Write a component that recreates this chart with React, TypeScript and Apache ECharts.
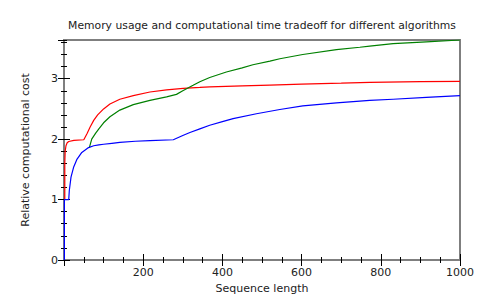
import React, { useEffect, useRef } from "react";
import * as echarts from "echarts";

const titleText = "Memory usage and computational time tradeoff for different algorithms";
const xName = "Sequence length";
const yName = "Relative computational cost";

const redX = [2, 2, 3, 5, 8, 12, 25, 50, 58, 66, 75, 85, 100, 116, 141, 175, 217, 259, 301, 343, 368, 450, 520, 600, 700, 772, 900, 1000];
const redY = [1, 1.6, 1.8, 1.89, 1.94, 1.96, 1.98, 1.99, 2.09, 2.2, 2.31, 2.4, 2.5, 2.58, 2.66, 2.72, 2.78, 2.815, 2.84, 2.855, 2.865, 2.88, 2.895, 2.91, 2.925, 2.94, 2.95, 2.955];

const greenX = [64, 70, 80, 88, 100, 116, 141, 175, 217, 259, 284, 300, 326, 343, 368, 410, 450, 477, 520, 545, 603, 688, 747, 772, 831, 915, 1000];
const greenY = [1.86, 2.0, 2.1, 2.17, 2.27, 2.37, 2.48, 2.57, 2.64, 2.7, 2.74, 2.8, 2.89, 2.95, 3.02, 3.11, 3.18, 3.23, 3.29, 3.33, 3.4, 3.48, 3.52, 3.54, 3.58, 3.61, 3.64];

const blueX = [1, 1, 12, 13.4, 17.7, 24.5, 33, 45, 62, 75, 88, 100, 121, 141, 180, 217, 276, 300, 318, 343, 368, 400, 427, 486, 545, 603, 688, 747, 772, 831, 915, 1000];
const blueY = [0, 1, 1, 1.15, 1.37, 1.54, 1.67, 1.78, 1.86, 1.89, 1.905, 1.915, 1.93, 1.945, 1.965, 1.975, 1.99, 2.06, 2.11, 2.17, 2.23, 2.29, 2.34, 2.42, 2.49, 2.55, 2.6, 2.63, 2.64, 2.66, 2.69, 2.72];

const X_MIN = 0, X_MAX = 1000, Y_MIN = 0, Y_MAX = 3.64;

const zip = (xs: number[], ys: number[]) => xs.map((x, i) => [x, ys[i]]);

export default function App() {
  const ref = useRef<HTMLDivElement>(null);
  useEffect(() => {
    if (!ref.current) return;
    const chart = echarts.init(ref.current, undefined, { renderer: "svg" });
    const font = "DejaVu Sans";
    const tickStyle = { color: "#000", width: 1 };
    const mkX = (pos: "bottom" | "top", interval: number, len: number, labels: boolean) => ({
      type: "value" as const,
      position: pos,
      min: X_MIN,
      max: X_MAX,
      interval,
      axisLine: { show: false },
      splitLine: { show: false },
      axisTick: { show: true, inside: true, length: len, lineStyle: tickStyle },
      axisLabel: labels
        ? {
            show: true,
            margin: 7,
            color: "#222",
            fontFamily: font,
            fontSize: 11,
            formatter: (v: number) => (v === 0 ? "" : String(v)),
          }
        : { show: false },
      name: labels ? xName : "",
      nameLocation: "middle" as const,
      nameGap: 21,
      nameTextStyle: { color: "#222", fontFamily: font, fontSize: 11 },
    });
    const mkY = (pos: "left" | "right", interval: number, len: number, labels: boolean) => ({
      type: "value" as const,
      position: pos,
      min: Y_MIN,
      max: Y_MAX,
      interval,
      axisLine: { show: false },
      splitLine: { show: false },
      axisTick: { show: true, inside: true, length: len, lineStyle: tickStyle },
      axisLabel: labels
        ? {
            show: true,
            margin: 6,
            color: "#222",
            fontFamily: font,
            fontSize: 11,
            showMaxLabel: false,
            formatter: (v: number) => (Number.isInteger(v) ? String(v) : ""),
          }
        : { show: false },
      name: labels ? yName : "",
      nameLocation: "middle" as const,
      nameGap: 33,
      nameTextStyle: { color: "#222", fontFamily: font, fontSize: 11 },
    });
    const line = (name: string, xs: number[], ys: number[], color: string) => ({
      name,
      type: "line" as const,
      data: zip(xs, ys),
      showSymbol: false,
      symbol: "none",
      lineStyle: { color, width: 1.2 },
      itemStyle: { color },
      xAxisIndex: 0,
      yAxisIndex: 0,
      z: 3,
    });
    chart.setOption({
      animation: false,
      backgroundColor: "#fff",
      title: {
        text: titleText,
        left: 257,
        textAlign: "center",
        top: 15,
        textStyle: { fontFamily: font, fontSize: 10.8, fontWeight: "normal", color: "#222" },
      },
      grid: {
        left: 64,
        right: 40,
        top: 40,
        bottom: 40,
        show: true,
        borderColor: "#7f7f7f",
        borderWidth: 2,
        backgroundColor: "transparent",
      },
      xAxis: [
        mkX("bottom", 200, 6, true),
        mkX("top", 200, 6, false),
        mkX("bottom", 50, 3, false),
        mkX("top", 50, 3, false),
      ],
      yAxis: [
        mkY("left", 1, 6, true),
        mkY("right", 1, 6, false),
        mkY("left", 0.2, 3, false),
        mkY("right", 0.2, 3, false),
      ],
      series: [
        line("red", redX, redY, "#ff0000"),
        line("green", greenX, greenY, "#008000"),
        line("blue", blueX, blueY, "#0000ff"),
      ],
    });
    return () => chart.dispose();
  }, []);
  return <div ref={ref} style={{ position: "fixed", left: 0, top: 0, width: 500, height: 300 }} />;
}
